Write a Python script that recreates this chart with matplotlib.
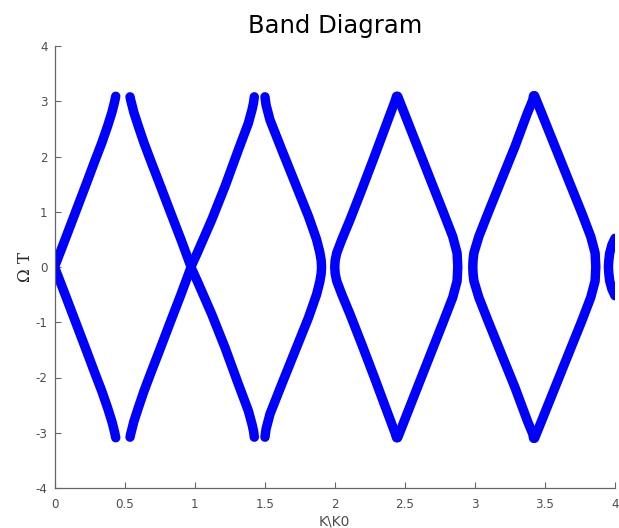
import numpy as np
import matplotlib
matplotlib.use("Agg")
import matplotlib.pyplot as plt

# Band branches (upper half, omega >= 0), each listed from omega = 0 upward.
# The lower half of the diagram is the mirror image (-omega).
k_b1 = [0.000, 0.076, 0.151, 0.226, 0.285, 0.338, 0.379, 0.410, 0.425, 0.433, 0.437]
w_b1 = [0.00, 0.50, 1.00, 1.50, 1.90, 2.25, 2.55, 2.80, 2.95, 3.04, 3.09]

k_b2 = [0.975, 0.902, 0.826, 0.751, 0.690, 0.638, 0.598, 0.566, 0.551, 0.543, 0.539]
w_b2 = [0.00, 0.50, 1.00, 1.50, 1.90, 2.25, 2.55, 2.80, 2.95, 3.03, 3.08]

k_b3 = [0.973, 1.018, 1.122, 1.217, 1.312, 1.383, 1.410, 1.421, 1.426]
w_b3 = [0.00, 0.25, 0.855, 1.46, 2.12, 2.60, 2.85, 2.98, 3.08]

k_b4 = [1.906, 1.903, 1.893, 1.870, 1.812, 1.717, 1.622, 1.538, 1.510, 1.502]
w_b4 = [0.00, 0.12, 0.27, 0.50, 0.92, 1.52, 2.12, 2.66, 2.93, 3.08]

k_b5 = [2.000, 2.003, 2.014, 2.050, 2.109, 2.193, 2.283, 2.371, 2.430, 2.441]
w_b5 = [0.00, 0.12, 0.253, 0.494, 0.855, 1.40, 2.00, 2.60, 3.00, 3.09]

k_b6 = [2.878, 2.873, 2.842, 2.777, 2.683, 2.590, 2.497, 2.449]
w_b6 = [0.00, 0.253, 0.55, 0.976, 1.58, 2.18, 2.78, 3.09]

k_b7 = [2.985, 2.987, 2.993, 3.028, 3.094, 3.190, 3.286, 3.374, 3.413, 3.419]
w_b7 = [0.00, 0.12, 0.253, 0.55, 0.976, 1.58, 2.18, 2.78, 3.02, 3.10]

k_b8 = [3.863, 3.858, 3.827, 3.763, 3.667, 3.572, 3.477, 3.426]
w_b8 = [0.00, 0.253, 0.55, 0.976, 1.58, 2.18, 2.78, 3.10]

k_b9 = [3.953, 3.956, 3.962, 3.978, 4.000]
w_b9 = [0.00, 0.12, 0.25, 0.40, 0.52]

branches = [(k_b1, w_b1), (k_b2, w_b2), (k_b3, w_b3), (k_b4, w_b4), (k_b5, w_b5),
            (k_b6, w_b6), (k_b7, w_b7), (k_b8, w_b8), (k_b9, w_b9)]

x_ticks = [0, 0.5, 1, 1.5, 2, 2.5, 3, 3.5, 4]
x_tick_labels = ["0", "0.5", "1", "1.5", "2", "2.5", "3", "3.5", "4"]
y_ticks = [-4, -3, -2, -1, 0, 1, 2, 3, 4]
y_tick_labels = ["-4", "-3", "-2", "-1", "0", "1", "2", "3", "4"]

plt.rcParams["font.family"] = ["DejaVu Sans"]

fig = plt.figure(figsize=(6.19, 5.28), dpi=100)
ax = fig.add_axes([54.5 / 619, 40 / 528, (615 - 54.5) / 619, (488 - 46) / 528])

for k, w in branches:
    k = np.asarray(k)
    w = np.asarray(w)
    # join the lower mirror branch and the upper branch into one path
    kk = np.concatenate([k[::-1], k])
    ww = np.concatenate([-w[::-1], w])
    ax.plot(kk, ww, color=(0, 0, 1), linewidth=6.8,
            solid_capstyle="round", solid_joinstyle="round", clip_on=True)

ax.set_xlim(0, 4)
ax.set_ylim(-4, 4)
ax.set_xticks(x_ticks)
ax.set_xticklabels(x_tick_labels)
ax.set_yticks(y_ticks)
ax.set_yticklabels(y_tick_labels)

gray = (0.15, 0.15, 0.15)
for side in ("top", "right"):
    ax.spines[side].set_visible(False)
for side in ("left", "bottom"):
    ax.spines[side].set_color((0.4, 0.4, 0.4))
    ax.spines[side].set_linewidth(0.9)
ax.tick_params(direction="in", length=4, width=0.8, color=(0.4, 0.4, 0.4),
               labelsize=8.6, labelcolor=(0.3, 0.3, 0.3))
ax.tick_params(axis="x", pad=7)
ax.tick_params(axis="y", pad=5)

ax.set_title("Band Diagram", fontsize=17.5, pad=9, color="black")
ax.set_xlabel("K\\K0", fontsize=10, color=(0.3, 0.3, 0.3), labelpad=3)
ax.set_ylabel("Ω T", fontsize=12, family=["DejaVu Serif"], color=gray, labelpad=1)

fig.savefig("out.png", dpi=100)
